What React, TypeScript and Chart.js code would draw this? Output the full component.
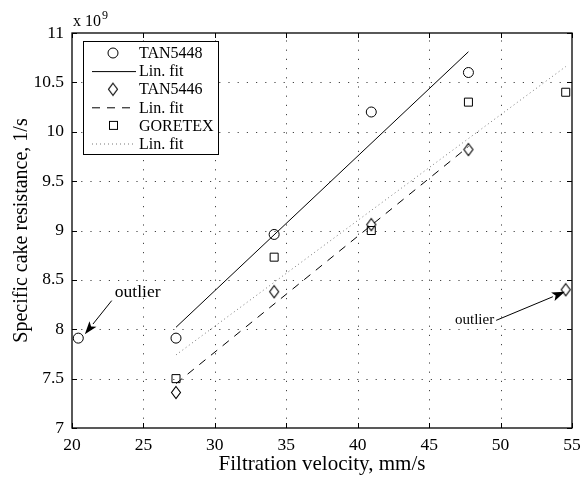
import React, { useEffect, useRef } from "react";
import { Chart, registerables } from "chart.js";

Chart.register(...registerables);

// ---- data ----
const xTan5448 = [20.44, 27.28, 34.15, 40.95, 47.75];
const yTan5448 = [7.91, 7.91, 8.96, 10.2, 10.6];
const xFit5448 = [27.28, 47.75];
const yFit5448 = [8.02, 10.81];

const xTan5446 = [27.28, 34.15, 40.95, 47.75, 54.56];
const yTan5446 = [7.36, 8.38, 9.06, 9.82, 8.4];
const xFit5446 = [27.28, 47.75];
const yFit5446 = [7.45, 9.85];

const xGoretex = [27.28, 34.15, 40.95, 47.75, 54.56];
const yGoretex = [7.5, 8.73, 9.0, 10.3, 10.4];
const xFitGoretex = [27.28, 54.56];
const yFitGoretex = [7.74, 10.66];

const seriesLabels = ["TAN5448", "Lin. fit", "TAN5446", "Lin. fit", "GORETEX", "Lin. fit"];
const xTickValues = [20, 25, 30, 35, 40, 45, 50, 55];
const yTickValues = [7, 7.5, 8, 8.5, 9, 9.5, 10, 10.5, 11];

// annotations in data coordinates: [textX, textY, arrowFromX, arrowFromY, arrowToX, arrowToY]
const outlierLeft = [23.0, 8.327, 22.78, 8.29, 20.9, 7.95];
const outlierRight = [49.55, 8.05, 49.69, 8.09, 54.5, 8.38];

const SERIF = "'Liberation Serif', 'Times New Roman', serif";

function toPts(xs: number[], ys: number[]) {
  return xs.map((x, i) => ({ x, y: ys[i] }));
}

function makeDiamond(): HTMLCanvasElement {
  const c = document.createElement("canvas");
  c.width = 12;
  c.height = 15;
  const g = c.getContext("2d")!;
  g.strokeStyle = "#000";
  g.lineWidth = 1.1;
  g.beginPath();
  g.moveTo(6, 1.5);
  g.lineTo(10.5, 7.5);
  g.lineTo(6, 13.5);
  g.lineTo(1.5, 7.5);
  g.closePath();
  g.stroke();
  return c;
}

function drawArrow(ctx: CanvasRenderingContext2D, x1: number, y1: number, x2: number, y2: number) {
  const ang = Math.atan2(y2 - y1, x2 - x1);
  const headLen = 13;
  const headW = 4.5;
  const bx = x2 - headLen * Math.cos(ang);
  const by = y2 - headLen * Math.sin(ang);
  ctx.save();
  ctx.strokeStyle = "#000";
  ctx.fillStyle = "#000";
  ctx.lineWidth = 1;
  ctx.beginPath();
  ctx.moveTo(x1, y1);
  ctx.lineTo(bx, by);
  ctx.stroke();
  ctx.beginPath();
  ctx.moveTo(x2, y2);
  ctx.lineTo(bx + headW * Math.sin(ang), by - headW * Math.cos(ang));
  ctx.lineTo(bx + 3 * Math.cos(ang), by + 3 * Math.sin(ang));
  ctx.lineTo(bx - headW * Math.sin(ang), by + headW * Math.cos(ang));
  ctx.closePath();
  ctx.fill();
  ctx.restore();
}

export default function App() {
  const ref = useRef<HTMLCanvasElement>(null);

  useEffect(() => {
    const diamond = makeDiamond();

    const decorPlugin = {
      id: "decor",
      beforeDatasetsDraw(chart: any) {
        const { ctx, chartArea: a, scales } = chart;
        ctx.save();
        ctx.strokeStyle = "#444";
        ctx.lineWidth = 1;
        ctx.setLineDash([1.2, 8]);
        xTickValues.forEach((v) => {
          const px = Math.round(scales.x.getPixelForValue(v)) + 0.5;
          if (px <= a.left + 1 || px >= a.right - 1) return;
          ctx.beginPath();
          ctx.moveTo(px, a.bottom);
          ctx.lineTo(px, a.top);
          ctx.stroke();
        });
        yTickValues.forEach((v) => {
          const py = Math.round(scales.y.getPixelForValue(v)) + 0.5;
          if (py <= a.top + 1 || py >= a.bottom - 1) return;
          ctx.beginPath();
          ctx.moveTo(a.left, py);
          ctx.lineTo(a.right, py);
          ctx.stroke();
        });
        ctx.restore();
      },
      afterDatasetsDraw(chart: any) {
        const { ctx, chartArea: a, scales } = chart;
        const sx = scales.x;
        const sy = scales.y;
        ctx.save();
        // box
        ctx.strokeStyle = "#000";
        ctx.lineWidth = 1.3;
        ctx.setLineDash([]);
        ctx.strokeRect(a.left, a.top, a.right - a.left, a.bottom - a.top);
        // inward ticks
        ctx.lineWidth = 1;
        const tl = 5;
        xTickValues.forEach((v) => {
          const px = Math.round(sx.getPixelForValue(v)) + 0.5;
          ctx.beginPath();
          ctx.moveTo(px, a.bottom);
          ctx.lineTo(px, a.bottom - tl);
          ctx.moveTo(px, a.top);
          ctx.lineTo(px, a.top + tl);
          ctx.stroke();
        });
        yTickValues.forEach((v) => {
          const py = Math.round(sy.getPixelForValue(v)) + 0.5;
          ctx.beginPath();
          ctx.moveTo(a.left, py);
          ctx.lineTo(a.left + tl, py);
          ctx.moveTo(a.right, py);
          ctx.lineTo(a.right - tl, py);
          ctx.stroke();
        });

        // multiplier
        ctx.fillStyle = "#000";
        ctx.textBaseline = "alphabetic";
        ctx.textAlign = "left";
        ctx.font = `16px ${SERIF}`;
        ctx.fillText("x 10", a.left + 1, 26);
        const w = ctx.measureText("x 10").width;
        ctx.font = `12px ${SERIF}`;
        ctx.fillText("9", a.left + 2 + w, 19);

        // legend
        const lx = 83, ly = 41, lw = 135, lh = 113;
        ctx.fillStyle = "#fff";
        ctx.fillRect(lx, ly, lw, lh);
        ctx.strokeStyle = "#000";
        ctx.lineWidth = 1;
        ctx.strokeRect(lx + 0.5, ly + 0.5, lw, lh);
        const ds = chart.data.datasets;
        ds.forEach((d: any, i: number) => {
          const cy = 53 + i * 18.1;
          if (d.showLine) {
            ctx.save();
            ctx.strokeStyle = d.borderColor;
            ctx.lineWidth = d.borderWidth;
            ctx.setLineDash(d.borderDash || []);
            ctx.beginPath();
            ctx.moveTo(92, cy + 0.5);
            ctx.lineTo(136, cy + 0.5);
            ctx.stroke();
            ctx.restore();
          } else {
            ctx.save();
            ctx.strokeStyle = "#000";
            ctx.lineWidth = 1;
            ctx.setLineDash([]);
            if (d.pointStyle === "circle") {
              ctx.beginPath();
              ctx.arc(113, cy, 5, 0, Math.PI * 2);
              ctx.stroke();
            } else if (d.pointStyle === "rect") {
              ctx.strokeRect(109.5, cy - 4, 8, 8);
            } else {
              ctx.drawImage(diamond, 113 - 6, cy - 7.5);
            }
            ctx.restore();
          }
          ctx.fillStyle = "#000";
          ctx.font = `16px ${SERIF}`;
          ctx.textBaseline = "middle";
          ctx.textAlign = "left";
          ctx.fillText(d.label, 139, cy + 1);
        });

        // outlier annotations
        ctx.textBaseline = "alphabetic";
        ctx.font = `17.5px ${SERIF}`;
        ctx.textAlign = "left";
        ctx.fillText("outlier", sx.getPixelForValue(outlierLeft[0]), sy.getPixelForValue(outlierLeft[1]));
        drawArrow(
          ctx,
          sx.getPixelForValue(outlierLeft[2]),
          sy.getPixelForValue(outlierLeft[3]),
          sx.getPixelForValue(outlierLeft[4]),
          sy.getPixelForValue(outlierLeft[5])
        );
        ctx.font = `15px ${SERIF}`;
        ctx.textAlign = "right";
        ctx.fillText("outlier", sx.getPixelForValue(outlierRight[0]), sy.getPixelForValue(outlierRight[1]));
        drawArrow(
          ctx,
          sx.getPixelForValue(outlierRight[2]),
          sy.getPixelForValue(outlierRight[3]),
          sx.getPixelForValue(outlierRight[4]),
          sy.getPixelForValue(outlierRight[5])
        );
        ctx.restore();
      },
    };

    const chart = new Chart(ref.current!, {
      type: "scatter",
      data: {
        datasets: [
          {
            label: seriesLabels[0],
            data: toPts(xTan5448, yTan5448),
            pointStyle: "circle",
            pointRadius: 5,
            borderColor: "#000",
            backgroundColor: "rgba(0,0,0,0)",
            borderWidth: 1,
            showLine: false,
          },
          {
            label: seriesLabels[1],
            data: toPts(xFit5448, yFit5448),
            showLine: true,
            pointRadius: 0,
            borderColor: "#000",
            borderWidth: 1,
          },
          {
            label: seriesLabels[2],
            data: toPts(xTan5446, yTan5446),
            pointStyle: diamond as any,
            pointRadius: 6,
            borderColor: "#000",
            backgroundColor: "rgba(0,0,0,0)",
            borderWidth: 1,
            showLine: false,
          },
          {
            label: seriesLabels[3],
            data: toPts(xFit5446, yFit5446),
            showLine: true,
            pointRadius: 0,
            borderColor: "#000",
            borderWidth: 1,
            borderDash: [8, 7],
          },
          {
            label: seriesLabels[4],
            data: toPts(xGoretex, yGoretex),
            pointStyle: "rect",
            pointRadius: 5.66,
            borderColor: "#000",
            backgroundColor: "rgba(0,0,0,0)",
            borderWidth: 1,
            showLine: false,
          },
          {
            label: seriesLabels[5],
            data: toPts(xFitGoretex, yFitGoretex),
            showLine: true,
            pointRadius: 0,
            borderColor: "#777",
            borderWidth: 1,
            borderDash: [1, 3],
          },
        ] as any,
      },
      options: {
        animation: false,
        responsive: false,
        maintainAspectRatio: false,
        layout: { padding: { left: 0, top: 33, right: 9, bottom: 0 } },
        plugins: {
          legend: { display: false },
          tooltip: { enabled: false },
        },
        scales: {
          x: {
            type: "linear",
            min: 20,
            max: 55,
            afterBuildTicks: (s: any) => {
              s.ticks = xTickValues.map((v) => ({ value: v }));
            },
            afterFit: (s: any) => {
              s.height = 51;
              s.paddingLeft = 0;
              s.paddingRight = 0;
            },
            ticks: {
              color: "#000",
              font: { family: SERIF, size: 17.5 },
              padding: 7,
              maxRotation: 0,
            },
            grid: { display: false, drawTicks: false },
            border: { display: false },
            title: {
              display: true,
              text: "Filtration velocity, mm/s",
              color: "#000",
              font: { family: SERIF, size: 21 },
              padding: { top: 0, bottom: 2 },
            },
          },
          y: {
            type: "linear",
            min: 7,
            max: 11,
            afterBuildTicks: (s: any) => {
              s.ticks = yTickValues.map((v) => ({ value: v }));
            },
            afterFit: (s: any) => {
              s.width = 72;
              s.paddingTop = 0;
              s.paddingBottom = 0;
            },
            ticks: {
              color: "#000",
              font: { family: SERIF, size: 17.5 },
              padding: 8,
              callback: (v: any) => String(v),
            },
            grid: { display: false, drawTicks: false },
            border: { display: false },
            title: {
              display: true,
              text: "Specific cake resistance, 1/s",
              color: "#000",
              font: { family: SERIF, size: 20 },
              padding: { top: 10, bottom: 0 },
            },
          },
        },
      },
      plugins: [decorPlugin],
    });
    return () => chart.destroy();
  }, []);

  return (
    <div style={{ position: "fixed", left: 0, top: 0, width: 581, height: 479, background: "#fff" }}>
      <canvas ref={ref} width={581} height={479} style={{ width: 581, height: 479 }} />
    </div>
  );
}
